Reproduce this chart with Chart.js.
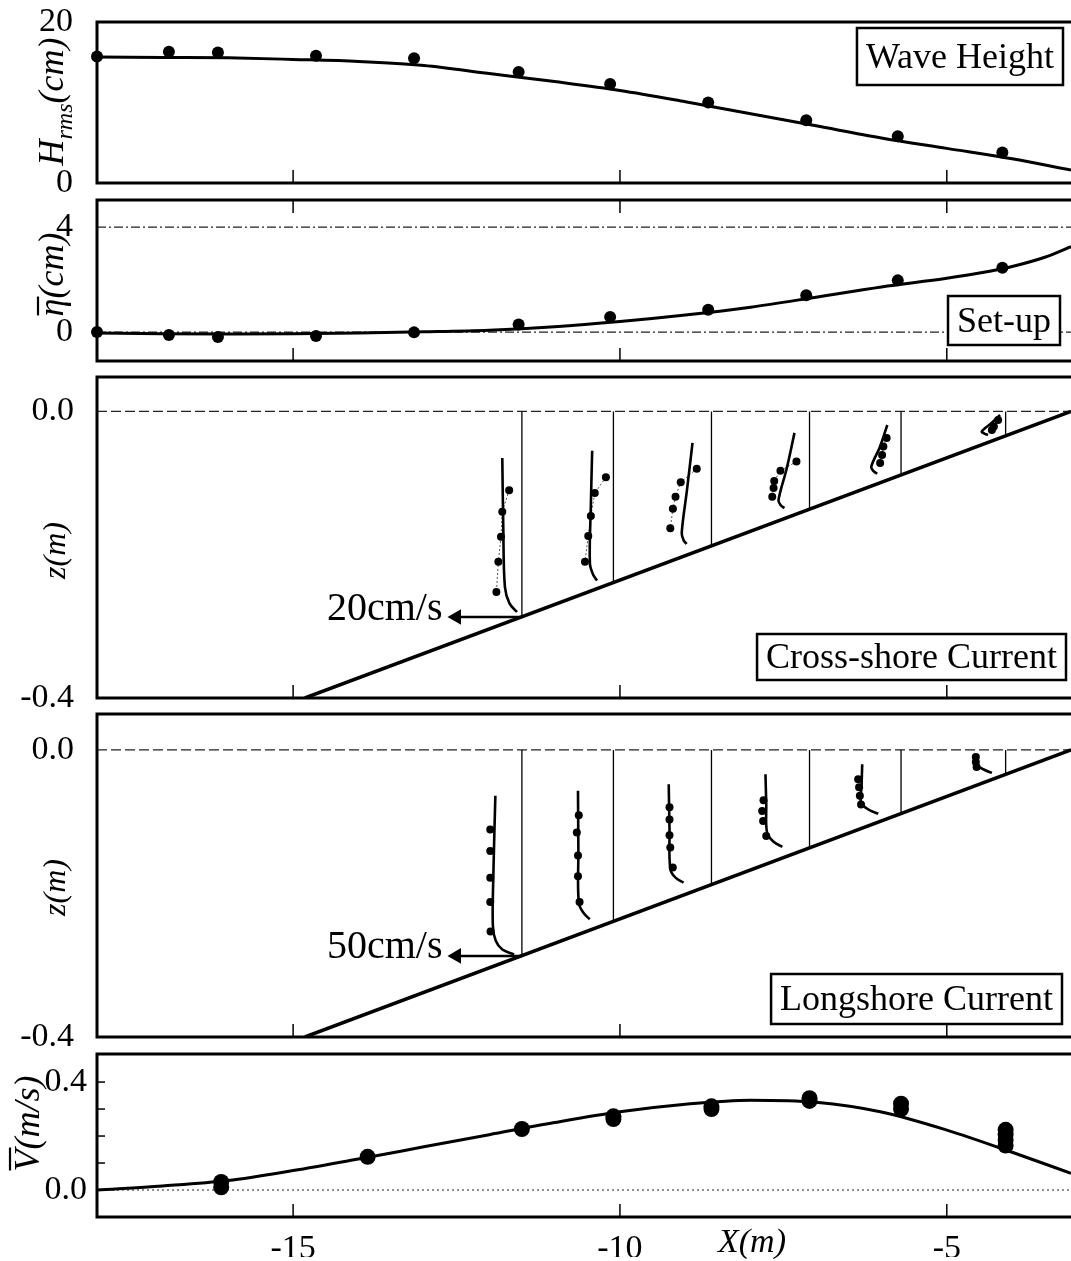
<!DOCTYPE html>
<html>
<head>
<meta charset="utf-8">
<script src="https://cdn.jsdelivr.net/npm/chart.js@4.4.0/dist/chart.umd.min.js"></script>
<style>
html, body { margin: 0; padding: 0; background: #fff; overflow: hidden; }
#wrap { position: relative; width: 1071px; height: 1261px; overflow: hidden; }
canvas { position: absolute; left: 0; }
</style>
</head>
<body>
<div id="wrap">
  <canvas id="cH" width="1071" height="241" style="top:-18px"></canvas>
  <canvas id="cS" width="1071" height="241" style="top:160px"></canvas>
  <canvas id="cU" width="1071" height="401" style="top:337px"></canvas>
  <canvas id="cV" width="1071" height="403" style="top:674px"></canvas>
  <canvas id="cM" width="1071" height="247" style="top:1014px"></canvas>
</div>
<script>
'use strict';
// shared cross-shore axis
const xMin = -18, xMax = -3.1;
const xTickVals = [-15, -10, -5];

// gauges (wave height + set-up)
const gaugeX = [-18.0, -16.9, -16.15, -14.65, -13.15, -11.55, -10.15, -8.65, -7.15, -5.75, -4.15];
const hObs = [15.7, 16.3, 16.2, 15.8, 15.5, 13.8, 12.3, 10.0, 7.8, 5.8, 3.8];
const sObs = [0.0, -0.11, -0.19, -0.15, -0.01, 0.29, 0.58, 0.85, 1.4, 1.97, 2.45];

// model curves
const modX = [-18, -17, -16, -15, -14, -13, -12, -11, -10, -9, -8, -7, -6, -5, -4, -3.1];
const hMod = [15.65, 15.6, 15.55, 15.35, 15.1, 14.6, 13.6, 12.6, 11.5, 10.1, 8.6, 7.1, 5.6, 4.3, 3.0, 1.6];
const sModX = [-18, -17, -16, -15, -14, -13, -12, -11, -10, -9, -8, -7, -6, -5, -4.5, -4, -3.5, -3.1];
const sMod = [-0.03, -0.06, -0.07, -0.06, -0.03, 0.01, 0.07, 0.2, 0.4, 0.65, 0.95, 1.33, 1.72, 2.05, 2.25, 2.5, 2.85, 3.25];
const vMod = [0.0, 0.015, 0.035, 0.072, 0.115, 0.16, 0.205, 0.25, 0.29, 0.318, 0.333, 0.325, 0.289, 0.222, 0.14, 0.062];

// depth-averaged longshore current, measured
const vObsX = [-16.1, -16.1, -13.86, -11.5, -10.1, -10.1, -8.6, -8.6, -7.1, -7.1, -5.7, -5.7, -4.1, -4.1, -4.1, -4.1];
const vObs = [0.01, 0.03, 0.123, 0.226, 0.263, 0.273, 0.30, 0.31, 0.33, 0.34, 0.30, 0.32, 0.165, 0.185, 0.205, 0.223];

// beach profile and current stations
const bedX = [-14.82, -3.1];
const bedZ = [-0.4, 0.0];
const stationX = [-11.5, -10.1, -8.6, -7.1, -5.7, -4.1];
const stationBed = [-0.287, -0.239, -0.188, -0.137, -0.089, -0.034];
const crossScale = 20, crossRef = 20;   // cm/s per metre of X, arrow value
const longScale = 50, longRef = 50;

// cross-shore current profiles (z in m, u in cm/s)
const uModZ = [
  [-0.065, -0.16, -0.245, -0.268, -0.280],
  [-0.055, -0.13, -0.212, -0.228, -0.236],
  [-0.044, -0.11, -0.170, -0.180, -0.185],
  [-0.030, -0.08, -0.124, -0.131, -0.135],
  [-0.019, -0.05, -0.077, -0.083, -0.087],
  [-0.005, -0.017, -0.028, -0.031, -0.033]
];
const uMod = [
  [-6.0, -5.7, -5.2, -3.8, -1.5],
  [-6.5, -6.9, -7.2, -6.2, -5.0],
  [-5.8, -7.5, -9.1, -8.5, -7.6],
  [-4.6, -7.0, -9.5, -8.8, -7.7],
  [-4.2, -6.5, -9.1, -8.5, -7.3],
  [-1.7, -4.5, -7.3, -6.5, -5.4]
];
const uObsZ = [
  [-0.110, -0.140, -0.175, -0.210, -0.252],
  [-0.092, -0.114, -0.146, -0.174, -0.210],
  [-0.080, -0.099, -0.119, -0.136, -0.163],
  [-0.070, -0.083, -0.097, -0.107, -0.119],
  [-0.037, -0.049, -0.061, -0.072],
  [-0.012, -0.021, -0.026]
];
const uObs = [
  [-3.9, -6.0, -6.4, -7.2, -7.8],
  [-2.3, -5.7, -6.9, -7.7, -8.7],
  [-4.5, -9.4, -11.0, -11.8, -12.6],
  [-4.0, -8.9, -10.8, -11.0, -11.4],
  [-4.4, -5.4, -5.8, -6.4],
  [-2.3, -3.6, -4.2]
];

// longshore current profiles (z in m, v in cm/s)
const lModZ = [
  [-0.064, -0.18, -0.245, -0.266, -0.278, -0.285],
  [-0.057, -0.14, -0.213, -0.228, -0.236],
  [-0.048, -0.11, -0.166, -0.178, -0.185],
  [-0.034, -0.075, -0.115, -0.128, -0.135],
  [-0.020, -0.05, -0.073, -0.083, -0.089],
  [-0.008, -0.022, -0.028, -0.032]
];
const lMod = [
  [20.3, 21.9, 22.2, 20.0, 15.0, 6.0],
  [27.1, 26.8, 26.5, 22.5, 18.1],
  [32.7, 32.1, 31.5, 27.5, 21.3],
  [33.7, 33.1, 32.5, 27.5, 20.8],
  [29.7, 30.2, 30.6, 25.0, 17.4],
  [21.3, 21.3, 16.0, 10.5]
];
const lObsZ = [
  [-0.111, -0.141, -0.178, -0.212, -0.253],
  [-0.091, -0.115, -0.147, -0.176, -0.212],
  [-0.080, -0.097, -0.119, -0.136, -0.164],
  [-0.070, -0.085, -0.099, -0.120],
  [-0.041, -0.052, -0.064, -0.076],
  [-0.010, -0.017, -0.024]
];
const lObs = [
  [24.2, 24.2, 24.2, 24.2, 24.0],
  [26.5, 28.0, 27.1, 27.1, 25.9],
  [32.1, 32.1, 32.1, 31.5, 29.6],
  [35.2, 36.2, 35.5, 33.1],
  [32.8, 32.1, 31.5, 30.6],
  [22.8, 22.8, 22.2]
];

const hTicks = [0, 20], sTicks = [0, 4], zTicks = [-0.4, 0.0], vTicks = [0.0, 0.4];
const vMinor = [0.1, 0.2, 0.3, 0.4];

const FONT = '"Liberation Serif", "Times New Roman", serif';
const pts = (xs, ys) => xs.map((v, i) => ({ x: v, y: ys[i] }));

function deco(cfg) {
  return {
    id: 'deco',
    beforeDatasetsDraw(chart) {
      const { ctx, chartArea: a, scales: { y } } = chart;
      ctx.save();
      ctx.strokeStyle = '#222';
      ctx.lineWidth = 1.2;
      ctx.setLineDash(cfg.refDash || [9, 3, 2, 3]);
      (cfg.refLines || []).forEach(v => {
        const py = y.getPixelForValue(v);
        ctx.beginPath(); ctx.moveTo(a.left, py); ctx.lineTo(a.right, py); ctx.stroke();
      });
      ctx.restore();
    },
    afterDatasetsDraw(chart) {
      const { ctx, chartArea: a, scales: { x, y } } = chart;
      ctx.save();
      ctx.strokeStyle = '#000';
      ctx.fillStyle = '#000';
      ctx.lineWidth = 3;
      ctx.beginPath();
      ctx.moveTo(a.right, a.top); ctx.lineTo(a.left, a.top);
      ctx.lineTo(a.left, a.bottom); ctx.lineTo(a.right, a.bottom);
      ctx.stroke();
      ctx.lineWidth = 1.5;
      xTickVals.forEach(v => {
        const px = x.getPixelForValue(v);
        ctx.beginPath(); ctx.moveTo(px, a.bottom); ctx.lineTo(px, a.bottom - 13);
        if (cfg.tickTop) { ctx.moveTo(px, a.top); ctx.lineTo(px, a.top + 13); }
        ctx.stroke();
      });
      (cfg.yMinor || []).forEach(v => {
        const py = y.getPixelForValue(v);
        ctx.beginPath(); ctx.moveTo(a.left, py); ctx.lineTo(a.left + 8, py); ctx.stroke();
      });
      if (cfg.arrowText) {
        const t = cfg.arrowText;
        ctx.font = '40px ' + FONT;
        ctx.textAlign = 'right'; ctx.textBaseline = 'middle';
        ctx.fillText(t.text, x.getPixelForValue(t.x) - 14, y.getPixelForValue(t.y) - 8);
      }
      if (cfg.box) {
        const b = cfg.box;
        ctx.font = '36px ' + FONT;
        const w = ctx.measureText(b.text).width + 18;
        const right = a.right - b.right;
        const top = b.top != null ? a.top + b.top : a.bottom - b.bottom - b.h;
        ctx.fillStyle = '#fff'; ctx.fillRect(right - w, top, w, b.h);
        ctx.lineWidth = 2.5; ctx.strokeRect(right - w, top, w, b.h);
        ctx.fillStyle = '#000'; ctx.textAlign = 'center'; ctx.textBaseline = 'middle';
        ctx.fillText(b.text, right - w / 2, top + b.h / 2 + 2);
      }
      if (cfg.ytitle) {
        const t = cfg.ytitle;
        const ws = t.parts.map(p => { ctx.font = 'italic ' + p.s + 'px ' + FONT; return ctx.measureText(p.t).width; });
        const total = ws.reduce((s, w) => s + w, 0);
        ctx.translate(t.x, (a.top + a.bottom) / 2 + t.dy);
        ctx.rotate(-Math.PI / 2);
        ctx.textAlign = 'left'; ctx.textBaseline = 'alphabetic';
        let cx = -total / 2;
        t.parts.forEach((p, i) => {
          ctx.font = 'italic ' + p.s + 'px ' + FONT;
          ctx.fillText(p.t, cx, p.sub || 0);
          if (p.bar) {
            ctx.lineWidth = 2.2;
            ctx.beginPath(); ctx.moveTo(cx + 1, p.bar); ctx.lineTo(cx + ws[i] + 2, p.bar); ctx.stroke();
          }
          cx += ws[i];
        });
        ctx.setTransform(1, 0, 0, 1, 0, 0);
      }
      if (cfg.xtitle) {
        ctx.font = 'italic 34px ' + FONT;
        ctx.textAlign = 'center'; ctx.textBaseline = 'middle';
        ctx.fillText(cfg.xtitle.text, x.getPixelForValue(cfg.xtitle.at), a.bottom + 26);
      }
      ctx.restore();
    }
  };
}

function xAxis(show) {
  const s = {
    type: 'linear', min: xMin, max: xMax, display: show,
    grid: { display: false }, border: { display: false },
    afterBuildTicks: sc => { sc.ticks = xTickVals.map(v => ({ value: v })); },
    ticks: { font: { family: FONT, size: 34 }, color: '#000', padding: 4, maxRotation: 0, autoSkip: false, callback: v => String(v) }
  };
  if (show) s.afterFit = sc => { sc.height = 40; };
  return s;
}
function yAxis(min, max, ticks, fmt, pad) {
  return {
    type: 'linear', min: min, max: max,
    grid: { display: false }, border: { display: false },
    afterBuildTicks: sc => { sc.ticks = ticks.map(v => ({ value: v })); },
    afterFit: sc => { sc.width = 97; },
    ticks: { font: { family: FONT, size: 34 }, color: '#000', padding: pad, autoSkip: false, callback: fmt }
  };
}
// padding of 40 above and below leaves room for the end tick labels
function baseOptions(yScale, showX, padBottom) {
  return {
    responsive: false, animation: false, devicePixelRatio: 1,
    layout: { autoPadding: false, padding: { top: 40, bottom: padBottom, left: 0, right: 0 } },
    plugins: { legend: { display: false }, tooltip: { enabled: false } },
    scales: { x: xAxis(showX), y: yScale }
  };
}
const lineSet = (data, w) => ({ data, showLine: true, borderColor: '#000', borderWidth: w, pointRadius: 0, cubicInterpolationMode: 'monotone' });
const dotSet = (data, r) => ({ data, showLine: false, pointRadius: r, pointBackgroundColor: '#000', pointBorderWidth: 0, clip: false });

// 1. wave height
new Chart(document.getElementById('cH'), {
  type: 'scatter',
  data: { datasets: [dotSet(pts(gaugeX, hObs), 6), lineSet(pts(modX, hMod), 3)] },
  options: baseOptions(yAxis(0, 20, hTicks, v => String(v), 16), false, 40),
  plugins: [deco({
    box: { text: 'Wave Height', right: 8, top: 6, h: 57 },
    ytitle: { x: 63, dy: -1, parts: [{ t: 'H', s: 36 }, { t: 'rms', s: 24, sub: 9 }, { t: '(cm)', s: 36 }] }
  })]
});

// 2. set-up
new Chart(document.getElementById('cS'), {
  type: 'scatter',
  data: { datasets: [dotSet(pts(gaugeX, sObs), 6), lineSet(pts(sModX, sMod), 3)] },
  options: baseOptions(yAxis(-1.1, 5.03, sTicks, v => String(v), 16), false, 40),
  plugins: [deco({
    refLines: sTicks, tickTop: true,
    box: { text: 'Set-up', right: 11, bottom: 16, h: 49 },
    ytitle: { x: 63, dy: -6, parts: [{ t: 'η', s: 36, bar: -25 }, { t: '(cm)', s: 36 }] }
  })]
});

// 3./4. vertical profiles
function profileSets(modZ, mod, obsZ, obs, toX, scale, ref, dotted) {
  const sets = [];
  stationX.forEach((sx, k) => {
    sets.push(lineSet(modZ[k].map((z, i) => ({ x: toX(sx, mod[k][i]), y: z })), 2.6));
    sets[sets.length - 1].cubicInterpolationMode = 'default';
    sets[sets.length - 1].tension = 0.35;
    sets.push({
      data: obsZ[k].map((z, i) => ({ x: toX(sx, obs[k][i]), y: z })),
      showLine: dotted, borderColor: '#555', borderWidth: 1, borderDash: [2, 2],
      pointRadius: 4, pointBackgroundColor: '#000', pointBorderWidth: 0
    });
    sets.push({ data: [{ x: sx, y: 0 }, { x: sx, y: stationBed[k] }], showLine: true, borderColor: '#000', borderWidth: 1.3, pointRadius: 0 });
  });
  sets.push({ data: pts(bedX, bedZ), showLine: true, borderColor: '#000', borderWidth: 3.5, pointRadius: 0 });
  sets.push({
    data: [{ x: stationX[0], y: stationBed[0] }, { x: stationX[0] - ref / scale, y: stationBed[0] }],
    showLine: true, borderColor: '#000', borderWidth: 2.5,
    pointRadius: [0, 9], pointStyle: 'triangle', pointRotation: -90,
    pointBackgroundColor: '#000', pointBorderWidth: 0, clip: false
  });
  return sets;
}

new Chart(document.getElementById('cU'), {
  type: 'scatter',
  data: { datasets: profileSets(uModZ, uMod, uObsZ, uObs, (sx, u) => sx + u / crossScale, crossScale, crossRef, true) },
  options: baseOptions(yAxis(-0.4, 0.048, zTicks, v => v.toFixed(1), 15), false, 40),
  plugins: [deco({
    refLines: [0], refDash: [10, 4],
    arrowText: { text: crossRef + 'cm/s', x: stationX[0] - crossRef / crossScale, y: stationBed[0] },
    box: { text: 'Cross-shore Current', right: 5, bottom: 18, h: 46 },
    ytitle: { x: 65, dy: 13, parts: [{ t: 'z(m)', s: 32 }] }
  })]
});

new Chart(document.getElementById('cV'), {
  type: 'scatter',
  data: { datasets: profileSets(lModZ, lMod, lObsZ, lObs, (sx, v) => sx - v / longScale, longScale, longRef, false) },
  options: baseOptions(yAxis(-0.4, 0.05, zTicks, v => v.toFixed(1), 15), false, 40),
  plugins: [deco({
    refLines: [0], refDash: [10, 4],
    arrowText: { text: longRef + 'cm/s', x: stationX[0] - longRef / longScale, y: stationBed[0] },
    box: { text: 'Longshore Current', right: 9, bottom: 13, h: 50 },
    ytitle: { x: 65, dy: 12, parts: [{ t: 'z(m)', s: 32 }] }
  })]
});

// 5. depth-averaged longshore current
new Chart(document.getElementById('cM'), {
  type: 'scatter',
  data: { datasets: [dotSet(pts(vObsX, vObs), 8), lineSet(pts(modX, vMod), 3)] },
  options: baseOptions(yAxis(-0.1, 0.504, vTicks, v => v.toFixed(1), 2), true, 4),
  plugins: [deco({
    refLines: [0], refDash: [2, 3], yMinor: vMinor,
    xtitle: { text: 'X(m)', at: -7.98 },
    ytitle: { x: 39, dy: -12, parts: [{ t: 'V', s: 36, bar: -29 }, { t: '(m/s)', s: 36 }] }
  })]
});
</script>
</body>
</html>
